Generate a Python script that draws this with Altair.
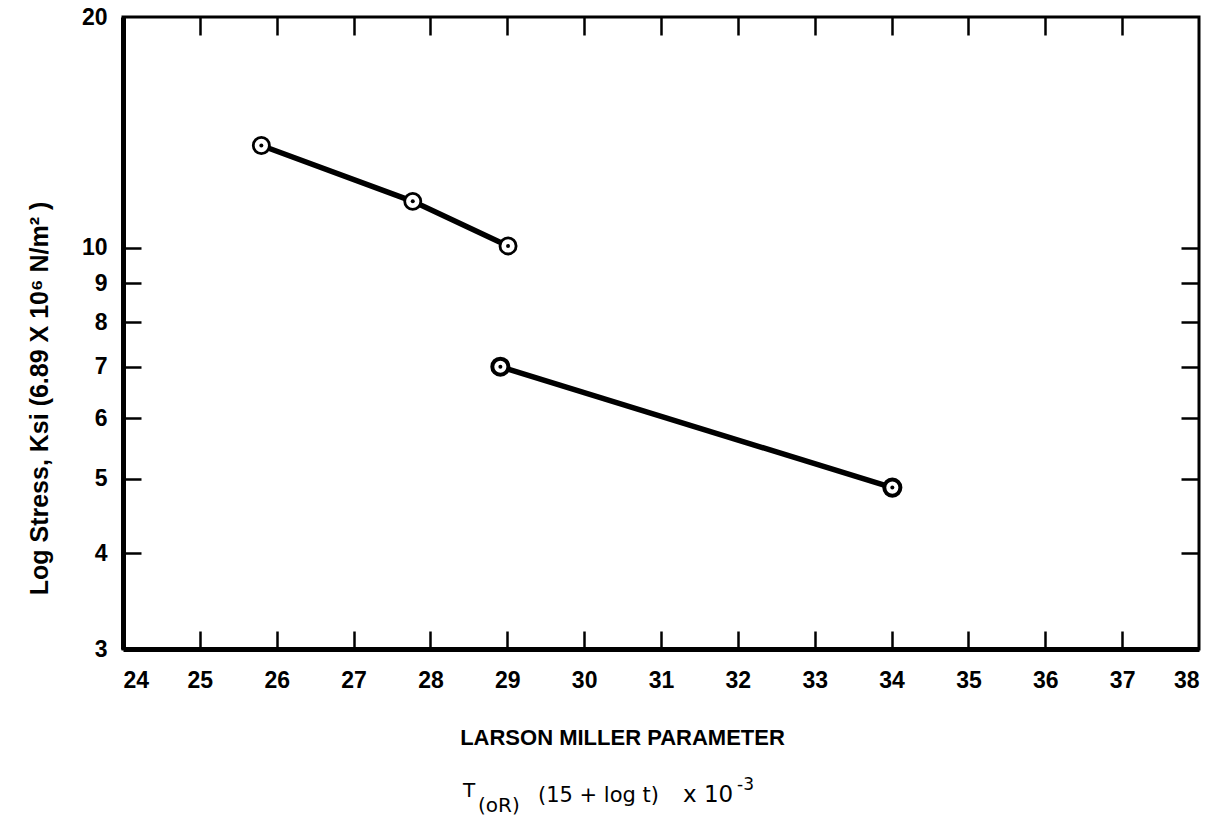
import altair as alt
import pandas as pd

# ---- data ----
series_a_x = [25.80, 27.77, 29.01]
series_a_y = [13.6, 11.5, 10.06]
series_b_x = [28.91, 34.01]
series_b_y = [7.0, 4.87]

x_label_values = list(range(24, 39))
x_tick_values = list(range(25, 38))
y_label_values = [3, 4, 5, 6, 7, 8, 9, 10, 20]
y_tick_values = [4, 5, 6, 7, 8, 9, 10]

x_title = "LARSON MILLER PARAMETER"
y_title = "Log Stress, Ksi (6.89 X 10\u2076 N/m\u00b2 )"

W, H = 1076, 632

rows = []
for x, y in zip(series_a_x, series_a_y):
    rows.append({"series": "A", "x": x, "y": y})
for x, y in zip(series_b_x, series_b_y):
    rows.append({"series": "B", "x": x, "y": y})
df = pd.DataFrame(rows)

xs = alt.Scale(domain=[24, 38], nice=False, zero=False)
ys = alt.Scale(type="log", domain=[3, 20], nice=False)

FONT = "Liberation Sans"
LAB = dict(labelFont=FONT, labelFontSize=23, labelFontWeight="bold", labelColor="black")

# label axes (bottom / left)
x_lab = alt.Axis(values=x_label_values, ticks=False, tickSize=0, grid=False,
                 domainColor="black", domainWidth=5, labelPadding=20,
                 title=x_title, titleX=499, titleY=95, titleAlign="center",
                 titleBaseline="alphabetic", titleFont=FONT, titleFontSize=22,
                 titleFontWeight="bold", titleColor="black", format="d", **LAB)
y_lab = alt.Axis(values=y_label_values, ticks=False, tickSize=0, grid=False,
                 domainColor="black", domainWidth=5, labelPadding=16,
                 title=y_title, titleAngle=270, titleX=-84, titleY=381,
                 titleAlign="center", titleBaseline="middle", titleFont=FONT,
                 titleFontSize=25, titleFontWeight="bold", titleColor="black",
                 format="d", **LAB)

def tick_axis(vals, orient, offset):
    return alt.Axis(values=vals, orient=orient, offset=offset, labels=False,
                    domain=False, grid=False, ticks=True, tickSize=18,
                    tickWidth=2.5, tickColor="black", title=None)

line = alt.Chart(df).mark_line(color="black", strokeWidth=5.5).encode(
    x=alt.X("x:Q", scale=xs, axis=x_lab),
    y=alt.Y("y:Q", scale=ys, axis=y_lab),
    detail="series:N",
    order="x:Q",
)

# invisible layers that only carry the inward tick axes
tick_bottom_left = alt.Chart(df).mark_point(opacity=0).encode(
    x=alt.X("x:Q", scale=xs, axis=tick_axis(x_tick_values, "top", -H)),
    y=alt.Y("y:Q", scale=ys, axis=tick_axis(y_tick_values, "right", -W)),
)
tick_top_right = alt.Chart(df).mark_point(opacity=0).encode(
    x=alt.X("x:Q", scale=xs, axis=tick_axis(x_tick_values, "bottom", -H)),
    y=alt.Y("y:Q", scale=ys, axis=tick_axis(y_tick_values, "left", -W)),
)

rings = alt.Chart(df).mark_point(shape="circle", filled=True, fill="white",
                                 stroke="black", size=260, opacity=1).encode(
    x=alt.X("x:Q", scale=xs, axis=None),
    y=alt.Y("y:Q", scale=ys, axis=None),
    strokeWidth=alt.StrokeWidth("series:N", scale=alt.Scale(domain=["A", "B"], range=[2.8, 4]), legend=None),
)

dots = alt.Chart(df).mark_point(shape="circle", filled=True, color="black",
                                size=16, opacity=1).encode(
    x=alt.X("x:Q", scale=xs, axis=None),
    y=alt.Y("y:Q", scale=ys, axis=None),
)

# formula under the axis title: T_(oR) (15 + log t) x 10^-3
formula_text = ["T", "(oR)", "(15 + log t)", "x 10", "-3"]
formula_x = [340, 355, 415, 560, 614]
formula_y = [780, 795, 785, 785, 773]
formula_size = [20, 20, 21, 23, 17]
formula_align = ["left", "left", "left", "left", "left"]

texts = []
for t, px, py, fs, al in zip(formula_text, formula_x, formula_y, formula_size, formula_align):
    texts.append(
        alt.Chart(pd.DataFrame({"t": [t]})).mark_text(
            font="DejaVu Sans", fontSize=fs, align=al, baseline="alphabetic",
            color="black").encode(text="t:N", x=alt.value(px), y=alt.value(py))
    )

chart = alt.layer(line, tick_bottom_left, tick_top_right, rings, dots, *texts).resolve_axis(
    x="independent", y="independent"
).properties(
    width=W, height=H,
    autosize=alt.AutoSizeParams(type="none"),
    padding={"left": 123, "top": 17, "right": 20, "bottom": 172},
    background="white",
).configure_view(
    stroke="black", strokeWidth=3
)

chart.save("out.html", embed_options={"renderer": "svg", "actions": False})
